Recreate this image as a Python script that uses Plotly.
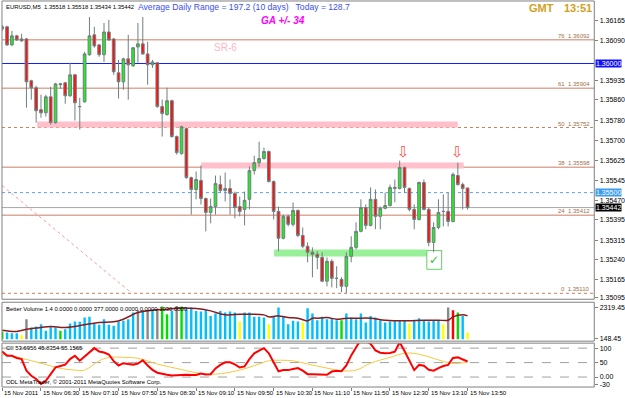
import plotly.graph_objects as go

# ---------------- data ----------------
bar_index = list(range(97))

opens = [1.36134,1.36142,1.36072,1.36107,1.36095,1.36095,1.35933,1.35906,1.35821,1.35809,
         1.35871,1.35771,1.35918,1.35925,1.35875,1.35956,1.35833,1.35852,1.36034,1.36111,
         1.36072,1.36034,1.36122,1.36095,1.35964,1.35929,1.36018,1.35991,1.36064,1.36076,
         1.36037,1.35995,1.36003,1.35833,1.35802,1.35856,1.35717,1.35651,1.35748,1.35558,
         1.35512,1.35547,1.35477,1.35423,1.35446,1.35531,1.35508,1.35516,1.35497,1.35446,
         1.35435,1.35474,1.35585,1.35616,1.35632,1.35659,1.35543,1.35427,1.35323,1.35408,
         1.35377,1.35431,1.35334,1.35292,1.35269,1.35261,1.35249,1.35157,1.35234,1.35168,
         1.35164,1.35137,1.35253,1.35288,1.35350,1.35442,1.35373,1.35474,1.35408,1.35439,
         1.35450,1.35516,1.35516,1.35597,1.35516,1.35435,1.35396,1.35539,1.35435,1.35307,
         1.35365,1.35427,1.35427,1.35388,1.35566,1.35531,1.35518]
highs = [1.36149,1.36146,1.36126,1.36111,1.36115,1.36099,1.35937,1.35914,1.35879,1.35879,
         1.35910,1.35925,1.35925,1.35929,1.36003,1.35960,1.35867,1.36045,1.36180,1.36142,
         1.36076,1.36157,1.36169,1.36099,1.36014,1.36022,1.36111,1.36064,1.36157,1.36180,
         1.36084,1.36014,1.36006,1.35860,1.35906,1.35860,1.35721,1.35759,1.35752,1.35562,
         1.35582,1.35605,1.35481,1.35477,1.35566,1.35566,1.35578,1.35551,1.35504,1.35485,
         1.35504,1.35601,1.35643,1.35697,1.35674,1.35663,1.35547,1.35446,1.35415,1.35415,
         1.35462,1.35435,1.35365,1.35307,1.35288,1.35273,1.35269,1.35249,1.35242,1.35215,
         1.35172,1.35269,1.35331,1.35385,1.35474,1.35454,1.35520,1.35512,1.35446,1.35500,
         1.35531,1.35551,1.35624,1.35601,1.35520,1.35454,1.35543,1.35551,1.35442,1.35385,
         1.35474,1.35493,1.35500,1.35578,1.35616,1.35539,1.35518]
lows = [1.36126,1.36068,1.36068,1.36088,1.36084,1.35829,1.35860,1.35771,1.35790,1.35794,
        1.35763,1.35767,1.35902,1.35844,1.35871,1.35779,1.35744,1.35848,1.36030,1.36061,
        1.36026,1.36006,1.36088,1.35956,1.35864,1.35898,1.35860,1.35987,1.36003,1.36034,
        1.35918,1.35983,1.35829,1.35717,1.35798,1.35713,1.35647,1.35647,1.35554,1.35415,
        1.35474,1.35454,1.35350,1.35381,1.35415,1.35500,1.35466,1.35415,1.35400,1.35408,
        1.35373,1.35435,1.35570,1.35601,1.35628,1.35539,1.35396,1.35273,1.35319,1.35369,
        1.35369,1.35327,1.35284,1.35230,1.35172,1.35203,1.35153,1.35137,1.35133,1.35130,
        1.35114,1.35110,1.35230,1.35280,1.35346,1.35358,1.35369,1.35358,1.35358,1.35435,
        1.35446,1.35462,1.35512,1.35500,1.35427,1.35358,1.35392,1.35431,1.35292,1.35269,
        1.35358,1.35369,1.35369,1.35385,1.35527,1.35435,1.35434]
closes = [1.36142,1.36072,1.36107,1.36091,1.36088,1.35929,1.35906,1.35817,1.35809,1.35871,
          1.35771,1.35921,1.35921,1.35875,1.35956,1.35848,1.35833,1.36037,1.36107,1.36068,
          1.36034,1.36122,1.36091,1.35968,1.35929,1.36018,1.35995,1.36061,1.36076,1.36037,
          1.35995,1.36006,1.35833,1.35806,1.35856,1.35717,1.35655,1.35755,1.35558,1.35512,
          1.35551,1.35477,1.35423,1.35446,1.35535,1.35508,1.35516,1.35497,1.35442,1.35427,
          1.35470,1.35585,1.35616,1.35632,1.35659,1.35543,1.35427,1.35323,1.35408,1.35377,
          1.35431,1.35334,1.35292,1.35269,1.35261,1.35249,1.35157,1.35234,1.35168,1.35168,
          1.35137,1.35253,1.35288,1.35350,1.35442,1.35373,1.35474,1.35408,1.35439,1.35450,
          1.35520,1.35520,1.35597,1.35520,1.35435,1.35396,1.35539,1.35435,1.35307,1.35365,
          1.35423,1.35427,1.35388,1.35570,1.35531,1.35516,1.35442]

volumes = [500,455,409,409,273,1364,796,864,1023,568,
           864,796,568,682,1069,1205,1182,1478,1523,1069,
           977,1364,977,909,1205,1250,1364,1819,1978,1978,
           1932,1978,2046,2228,1705,1932,2273,2228,2046,2160,
           1932,1887,1978,1591,1751,1932,1819,1887,1819,1205,
           1819,1819,1523,1523,1478,1023,1523,2160,1591,1023,
           1250,1205,1137,2114,1751,1296,1523,1364,1432,1296,
           1296,1751,1478,1364,1751,1137,1591,1478,1296,1137,
           1205,1296,1250,1296,1069,1250,1432,1250,1205,1296,
           1296,1023,2160,1978,1819,1591,455]
# Better Volume classes: N normal, L low, C churn, D climax down, U climax up
vol_class = list("CNNNLDNNNN" "NNCNNNNNNN" "NNNNNNNNDN" "DNDCCNDCNN" "NNNNNNNNNL"
                 "NNNNNLNNNN" "NNLNNNNNNN" "CNNNNNNNNN" "NNNNLNNNNN" "NLDUCNL")
vol_ma_idx = [0,3,5,8,10,13,17,20,23,25,28,31,34,36,40,43,46,49,51,54,55,57,59,61,63,64,
              65,67,69,71,73,76,79,83,87,90,92,93,95,96]
vol_ma_val = [614,523,682,796,864,796,977,1137,1182,1364,1819,1978,2046,2114,2092,1932,1660,
              1705,1705,1660,1523,1591,1478,1432,1250,1432,1432,1478,1364,1432,1432,1432,
              1296,1250,1296,1296,1296,1523,1660,1591]

cii = [88.6,73.6,73.6,66,62,22,4.6,-6.9,-24.2,-12.7,
       10.4,33.4,38,43,62,73.6,56.4,70,86,100,
       88,85,78,55,40,48,45,43,47,58,
       40,25,15,12.7,8,5,6,8,8,7,
       7,12,9,10,30,42,51,51,44,33,
       37,62,82,91,100,82,51,20,24,24,
       28,31,22,10,10,9,10,8,19,22,
       20,40,75,100,130,125,115,92,84,82,
       83,88,120,90,55,24,42,39,25,22,
       31,38,42,66,68,62,53.7]
sig_idx = [0,4,8,12,15,17,20,22,25,28,32,37,40,44,49,53,55,60,63,67,70,73,76,80,83,85,88,91,93,96]
sig_val = [79,65,48,30,24,24,56,68,68,65,45,26,15,10,24,45,56,56,45,31,22,24,48,68,82,82,70,54,47,51]

time_tick_idx = [0,8,16,24,32,40,48,56,64,72,80,88,96]
time_tick_text = ["15 Nov 2011","15 Nov 06:30","15 Nov 07:10","15 Nov 07:50","15 Nov 08:30",
                  "15 Nov 09:10","15 Nov 09:50","15 Nov 10:30","15 Nov 11:10","15 Nov 11:50",
                  "15 Nov 12:30","15 Nov 13:10","15 Nov 13:50"]
price_ticks = [1.36165,1.36090,1.35935,1.35860,1.35780,1.35700,1.35625,1.35545,1.35470,
               1.35395,1.35315,1.35240,1.35165,1.35095]
vol_tick_vals = [2182, 68]
vol_tick_text = ["2319.45", "148.45"]
cii_tick_vals = [100, 50, 0, -25]
cii_tick_text = ["100", "50", "0.00", "-30"]
cii_levels = [100, 50, 0]

fib_pct = [0, 24, 38, 50, 61, 76]
fib_price = [1.35110, 1.35412, 1.35598, 1.35752, 1.35904, 1.36092]
fib_dashed = [True, False, False, True, False, False]

blue_level = 1.36000
dotted_level = 1.35500
bid_price = 1.35442

zone_x0 = [7.2, 41.06]
zone_x1 = [94.0, 95.2]
zone_lo = [1.35752, 1.35593]
zone_hi = [1.35775, 1.35617]
support_x = [56.1, 87.6]
support_y = [1.35253, 1.35280]
check_x = [87.6, 90.66]
check_y = [1.35203, 1.35276]
arrow_idx = [82.8, 94.0]
arrow_price = [1.35659, 1.35659]
trend_idx = [0.0, 26.5]
trend_price = [1.35527, 1.35114]

# ---------------- layout geometry ----------------
W, H = 625, 398
def py(p):
    return 1 - p / H
XD = [2 / W, 602 / W]
D1 = [py(300), py(1)]
D2 = [py(342), py(303)]
D3 = [py(388), py(344)]
FONT = "Liberation Sans, Arial, sans-serif"

vol_colors_map = {"N": "#00bfff", "L": "#ffff00", "C": "#00e000", "D": "#8a8a8a", "U": "#ff0000"}

fig = go.Figure()
fig.add_trace(go.Candlestick(
    x=bar_index, open=opens, high=highs, low=lows, close=closes,
    increasing=dict(line=dict(color="#6f7f7f", width=1), fillcolor="#22ee22"),
    decreasing=dict(line=dict(color="#6f7f7f", width=1), fillcolor="#ff1010"),
    whiskerwidth=0, hoverinfo="skip", showlegend=False, yaxis="y"))
fig.add_trace(go.Scatter(x=trend_idx, y=trend_price, mode="lines", yaxis="y",
                         line=dict(color="#ff9a9a", width=1, dash="dot"), showlegend=False))
fig.add_trace(go.Bar(x=bar_index, y=volumes, width=0.5, yaxis="y2",
                     marker=dict(color=[vol_colors_map[c] for c in vol_class], line=dict(width=0)),
                     showlegend=False))
fig.add_trace(go.Scatter(x=vol_ma_idx, y=vol_ma_val, mode="lines", yaxis="y2",
                         line=dict(color="#8b1a1a", width=1.5, shape="spline"), showlegend=False))
fig.add_trace(go.Scatter(x=sig_idx, y=sig_val, mode="lines", yaxis="y3",
                         line=dict(color="#f5c842", width=1, shape="spline"), showlegend=False))
fig.add_trace(go.Scatter(x=bar_index, y=cii, mode="lines", yaxis="y3",
                         line=dict(color="#ff0000", width=2), showlegend=False))

shapes = []
for x0, x1, lo, hi in zip(zone_x0, zone_x1, zone_lo, zone_hi):
    shapes.append(dict(type="rect", xref="x", yref="y", x0=x0, x1=x1, y0=lo, y1=hi,
                       fillcolor="#ffc0cb", line=dict(width=0), layer="below"))
shapes.append(dict(type="rect", xref="x", yref="y", x0=support_x[0], x1=support_x[1],
                   y0=support_y[0], y1=support_y[1], fillcolor="#98f098", line=dict(width=0), layer="below"))
shapes.append(dict(type="rect", xref="x", yref="y", x0=check_x[0], x1=check_x[1],
                   y0=check_y[0], y1=check_y[1], fillcolor="rgba(0,0,0,0)",
                   line=dict(color="#66d066", width=1), layer="below"))
for pr, dsh in zip(fib_price, fib_dashed):
    shapes.append(dict(type="line", xref="paper", yref="y", x0=XD[0], x1=XD[1], y0=pr, y1=pr,
                       line=dict(color="#c8805a" if dsh else "#dca898", width=1 if dsh else 1.5,
                                 dash="dot" if dsh else "solid"), layer="below"))
shapes.append(dict(type="line", xref="paper", yref="y", x0=XD[0], x1=XD[1], y0=blue_level, y1=blue_level,
                   line=dict(color="#1020ff", width=1.2), layer="below"))
shapes.append(dict(type="line", xref="paper", yref="y", x0=XD[0], x1=XD[1], y0=dotted_level, y1=dotted_level,
                   line=dict(color="#5aa0e8", width=1, dash="dot"), layer="below"))
shapes.append(dict(type="line", xref="paper", yref="y", x0=XD[0], x1=XD[1], y0=bid_price, y1=bid_price,
                   line=dict(color="#a8a8a8", width=1), layer="below"))
for lv in cii_levels:
    shapes.append(dict(type="line", xref="paper", yref="y3", x0=XD[0], x1=XD[1], y0=lv, y1=lv,
                       line=dict(color="#a0a0a0", width=1, dash="dash"), layer="below"))
for d in (D1, D2, D3):
    shapes.append(dict(type="rect", xref="paper", yref="paper", x0=XD[0], x1=XD[1], y0=d[0], y1=d[1],
                       line=dict(color="#808080", width=1), fillcolor="rgba(0,0,0,0)"))

ann = []
def txt(x, y, s, size=6, color="#000000", anchor="left"):
    ann.append(dict(xref="paper", yref="paper", x=x / W, y=py(y), text=s, showarrow=False,
                    xanchor=anchor, yanchor="middle", font=dict(family=FONT, size=size, color=color)))

txt(4, 7, "EURUSD,M5  1.35518 1.35518 1.35434 1.35442", size=5.9)
txt(138, 7.5, "Average Daily Range = 197.2 (10 days)   Today = 128.7", size=8.6, color="#3a4ff0")
txt(262, 20.5, "<b><i>GA +/- 34</i></b>", size=10, color="#ff00ff")
txt(215, 48, "SR-6", size=10, color="#ffb6c1")
txt(534, 8.5, "<b>GMT</b>", size=11, color="#d4a020")
txt(569, 8.5, "<b>13:51</b>", size=11, color="#d4a020")
txt(4, 310, "Better Volume 1.4 0.0000 0.0000 377.0000 0.0000 0.0000 1030.0000", size=5.9)
txt(4, 349, "CII 53.6956 45.8354 55.1565", size=5.9)
txt(4, 383, "ODL MetaTrader, © 2001-2011 MetaQuotes Software Corp.", size=5.9)

for pct, pr in zip(fib_pct, fib_price):
    ann.append(dict(xref="paper", yref="y", x=600 / W, y=pr, text=f"{pct}  {pr:.5f}", showarrow=False,
                    xanchor="right", yanchor="bottom", yshift=-1,
                    font=dict(family=FONT, size=6, color="#a0704a")))
for lvl, bg in ((blue_level, "#1010ff"), (dotted_level, "#3b9cf0"), (bid_price, "#000000")):
    ann.append(dict(xref="paper", yref="y", x=603 / W, y=lvl, text=f"{lvl:.5f}", showarrow=False,
                    xanchor="left", yanchor="middle", bgcolor=bg, borderpad=0,
                    font=dict(family=FONT, size=7, color="#ffffff")))
for xi, pr in zip(arrow_idx, arrow_price):
    ann.append(dict(xref="x", yref="y", x=xi, y=pr, text="⇩", showarrow=False,
                    font=dict(family="DejaVu Sans", size=15, color="#ff5050")))
ann.append(dict(xref="x", yref="y", x=(check_x[0] + check_x[1]) / 2, y=(check_y[0] + check_y[1]) / 2,
                text="✓", showarrow=False, font=dict(family="DejaVu Sans", size=12, color="#3cb83c")))
for i, t in zip(time_tick_idx, time_tick_text):
    ann.append(dict(xref="x", yref="paper", x=i, y=py(393.5), text=t, showarrow=False,
                    xanchor="left", yanchor="middle", xshift=0,
                    font=dict(family=FONT, size=6.1, color="#000000")))

axis_common = dict(showgrid=False, zeroline=False, side="right", anchor="x", ticks="outside",
                   ticklen=3, tickcolor="#808080", tickfont=dict(family=FONT, size=7, color="#000000"),
                   showline=False, fixedrange=True)

fig.update_layout(
    width=W, height=H, margin=dict(l=0, r=0, t=0, b=0),
    paper_bgcolor="white", plot_bgcolor="white", showlegend=False, boxgap=0.2,
    xaxis=dict(domain=XD, range=[-0.05, 122.15], anchor="y3", showgrid=False, zeroline=False,
               tickvals=time_tick_idx, ticks="outside", ticklen=3, tickcolor="#808080",
               showticklabels=False, rangeslider=dict(visible=False), showline=False),
    yaxis=dict(domain=D1, range=[1.35087, 1.36242], tickvals=price_ticks, tickformat=".5f", **axis_common),
    yaxis2=dict(domain=D2, range=[-136, 2523], tickvals=vol_tick_vals, ticktext=vol_tick_text, **axis_common),
    yaxis3=dict(domain=D3, range=[-34.5, 117.3], tickvals=cii_tick_vals, ticktext=cii_tick_text, **axis_common),
    shapes=shapes, annotations=ann,
)

fig.write_html("out.html")
